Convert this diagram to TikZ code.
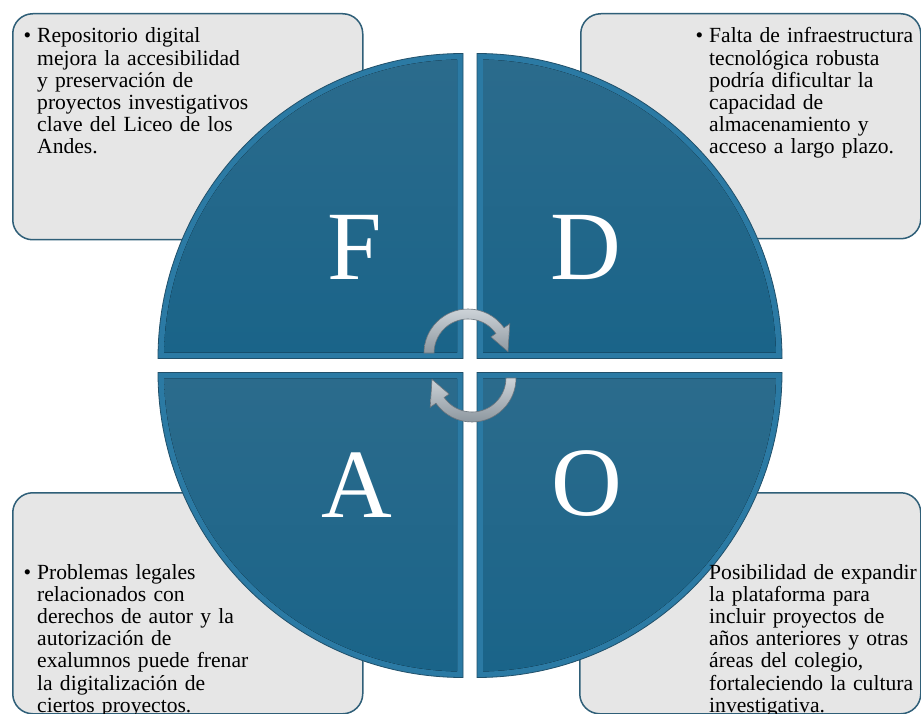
\documentclass[tikz,border=0pt]{standalone}
\usepackage{fontspec}
\setmainfont{Liberation Serif}
\usetikzlibrary{calc}
\definecolor{boxfill}{HTML}{E6E6E6}
\definecolor{boxline}{HTML}{2F5F78}
\definecolor{quadmain}{HTML}{1A6489}
\definecolor{quadtop}{HTML}{2B6B8C}
\definecolor{quadrim}{HTML}{2B7AA4}
\definecolor{quadedge}{HTML}{21506A}
\definecolor{arrlight}{HTML}{CDD3D8}
\definecolor{arrdark}{HTML}{8D979F}
\definecolor{arredge}{HTML}{6A747C}
\begin{document}
\begin{tikzpicture}[x=1pt,y=-1pt,
  infobox/.style={draw=boxline, line width=1.5pt, fill=boxfill, rounded corners=20pt, inner sep=0pt, anchor=north west},
  letter/.style={text=white, font=\fontsize{98}{98}\selectfont, inner sep=0pt},
  bodytext/.style={anchor=base west, align=left, text width=300pt, inner sep=0pt, font=\fontsize{21.6}{22.2}\selectfont, text=black},
  cyclearrow/.style={draw=arredge, line width=0.6pt, top color=arrlight, bottom color=arrdark}]
\useasboundingbox (0,0) rectangle (921,714);
\clip (0,0) rectangle (921,714);
\fill[white] (0,0) rectangle (921,714);
% boxes
\node[infobox, minimum width=350pt, minimum height=226pt] (boxF) at (12,13) {};
\node[infobox, minimum width=340pt, minimum height=225pt] (boxD) at (580,13) {};
\node[infobox, minimum width=350pt, minimum height=221pt] (boxA) at (12,492) {};
\node[infobox, minimum width=341pt, minimum height=221pt] (boxO) at (579,492) {};
% quadrants
\foreach \cx/\cy/\a in {463/358.5/180, 477/358.5/270, 477/372.5/0, 463/372.5/90} {
  \fill[quadrim] (\cx,\cy) -- ++(\a:305) arc[start angle=\a, delta angle=90, radius=305] -- cycle;
  \fill[top color=quadtop, bottom color=quadmain] ($(\cx,\cy)+(\a:6)+(\a+90:6)$) -- ($(\cx,\cy)+(\a+1.15:299)$) arc[start angle=\a+1.15, end angle=\a+88.85, radius=299] -- cycle;
  \draw[quadedge, line width=0.8pt] (\cx,\cy) -- ++(\a:305) arc[start angle=\a, delta angle=90, radius=305] -- cycle;
}
% cycle arrows
\begin{scope}[shift={(468,353)}]
  \path[cyclearrow] (180:44) arc[start angle=180, end angle=325, radius=44] -- (325:51) -- (358:40) -- (325:28) -- (325:34) arc[start angle=325, end angle=180, radius=34] -- cycle;
\end{scope}
\begin{scope}[shift={(472,378)}, rotate=180]
  \path[cyclearrow] (180:44) arc[start angle=180, end angle=325, radius=44] -- (325:51) -- (358:40) -- (325:28) -- (325:34) arc[start angle=325, end angle=180, radius=34] -- cycle;
\end{scope}
% letters
\node[letter] (lF) at (355,247.5) {F};
\node[letter] (lD) at (586,247.5) {D};
\node[letter] (lA) at (357,485) {A};
\node[letter] (lO) at (587,484) {O};
% texts
\node[bodytext] (tF) at (37,43) {\llap{\textbullet\hspace{6pt}}Repositorio digital\\mejora la accesibilidad\\y preservación de\\proyectos investigativos\\clave del Liceo de los\\Andes.};
\node[bodytext] (tD) at (709,43) {\llap{\textbullet\hspace{6pt}}Falta de infraestructura\\tecnológica robusta\\podría dificultar la\\capacidad de\\almacenamiento y\\acceso a largo plazo.};
\node[bodytext] (tA) at (37,579) {\llap{\textbullet\hspace{6pt}}Problemas legales\\relacionados con\\derechos de autor y la\\autorización de\\exalumnos puede frenar\\la digitalización de\\ciertos proyectos.};
\node[bodytext] (tO) at (709,579) {Posibilidad de expandir\\la plataforma para\\incluir proyectos de\\años anteriores y otras\\áreas del colegio,\\fortaleciendo la cultura\\investigativa.};
\end{tikzpicture}
\end{document}
